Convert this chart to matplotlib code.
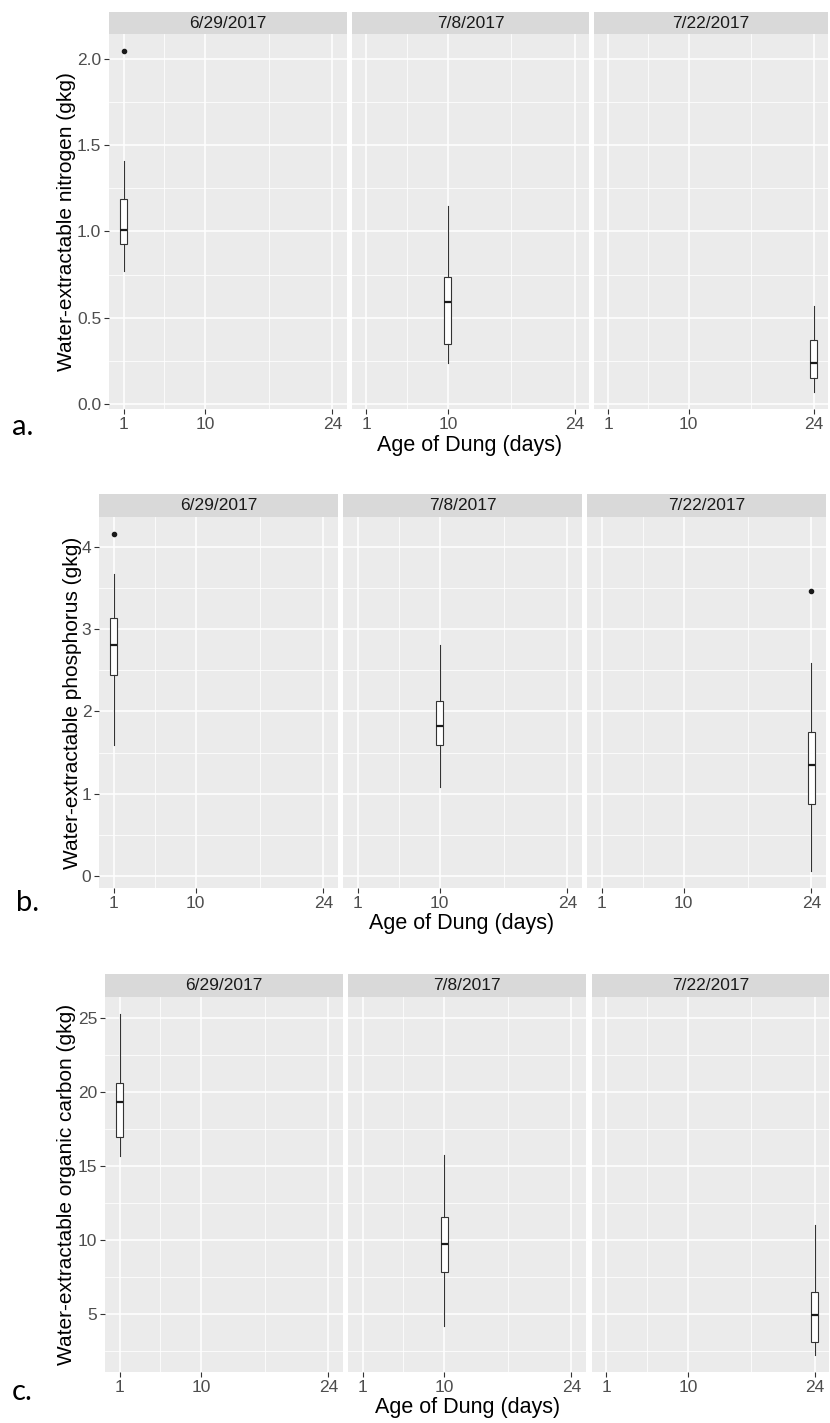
import matplotlib
matplotlib.use('Agg')
import matplotlib.pyplot as plt

W, H = 830, 1423

dates = ["6/29/2017", "7/8/2017", "7/22/2017"]
ages = [1, 10, 24]
age_ticks = [1, 10, 24]
age_minor = [5.5, 17]

# nitrogen, one value per sampling date
n_lo = [0.77, 0.24, 0.07]
n_q1 = [0.93, 0.35, 0.15]
n_med = [1.01, 0.59, 0.24]
n_q3 = [1.19, 0.735, 0.37]
n_hi = [1.41, 1.145, 0.57]
n_out = [[2.045], [], []]

# phosphorus
p_lo = [1.59, 1.085, 0.06]
p_q1 = [2.44, 1.59, 0.87]
p_med = [2.80, 1.82, 1.35]
p_q3 = [3.13, 2.13, 1.75]
p_hi = [3.67, 2.81, 2.585]
p_out = [[4.155], [], [3.46]]

# organic carbon
c_lo = [15.7, 4.2, 2.24]
c_q1 = [17.0, 7.85, 3.1]
c_med = [19.33, 9.72, 4.93]
c_q3 = [20.66, 11.58, 6.49]
c_hi = [25.29, 15.78, 11.0]
c_out = [[], [], []]

rows = [
    dict(lo=n_lo, q1=n_q1, med=n_med, q3=n_q3, hi=n_hi, out=n_out,
         yticks=[0.0, 0.5, 1.0, 1.5, 2.0], yfmt="{:.1f}",
         ylabel="Water-extractable nitrogen (gkg)", letter="a.",
         strip=(12, 34), panel=(34, 409),
         xs=[(109, 347), (352, 589), (594, 828)],
         ylab_x=67, xlab=(470, 445), let=(12, 427)),
    dict(lo=p_lo, q1=p_q1, med=p_med, q3=p_q3, hi=p_hi, out=p_out,
         yticks=[0, 1, 2, 3, 4], yfmt="{:d}",
         ylabel="Water-extractable phosphorus (gkg)", letter="b.",
         strip=(494, 517), panel=(517, 888),
         xs=[(99, 338), (343, 582), (587, 826)],
         ylab_x=72, xlab=(462, 923), let=(16, 903)),
    dict(lo=c_lo, q1=c_q1, med=c_med, q3=c_q3, hi=c_hi, out=c_out,
         yticks=[5, 10, 15, 20, 25], yfmt="{:d}",
         ylabel="Water-extractable organic carbon (gkg)", letter="c.",
         strip=(974, 997), panel=(997, 1372),
         xs=[(105, 343), (348, 586), (592, 829)],
         ylab_x=67, xlab=(468, 1407), let=(12, 1392)),
]

plt.rcParams['font.family'] = ['Liberation Sans', 'DejaVu Sans']

fig = plt.figure(figsize=(W / 100, H / 100), dpi=100)


def px_ax(x0, y0, x1, y1):
    return fig.add_axes([x0 / W, 1 - y1 / H, (x1 - x0) / W, (y1 - y0) / H])


for r in rows:
    allv = r['lo'] + r['hi'] + [v for o in r['out'] for v in o]
    vmin, vmax = min(allv), max(allv)
    pad = (vmax - vmin) * 0.05
    yt = r['yticks']
    step = yt[1] - yt[0]
    yminor = [yt[0] - step / 2] + [v + step / 2 for v in yt]
    for j, (x0, x1) in enumerate(r['xs']):
        ax = px_ax(x0, r['panel'][0], x1, r['panel'][1])
        ax.set_facecolor('#EBEBEB')
        for s in ax.spines.values():
            s.set_visible(False)
        ax.set_xticks(age_ticks)
        ax.set_xticks(age_minor, minor=True)
        ax.set_yticks(yt)
        ax.set_yticks(yminor, minor=True)
        ax.grid(which='major', color='white', lw=1.1)
        ax.grid(which='minor', color='white', lw=0.55)
        ax.set_axisbelow(True)
        ax.tick_params(which='major', length=3.5, width=0.8, color='#333333',
                       labelcolor='#4D4D4D', labelsize=12.5, pad=2)
        ax.tick_params(which='minor', length=0)
        if j == 0:
            ax.set_yticklabels([r['yfmt'].format(v) for v in yt])
        else:
            ax.tick_params(axis='y', which='major', length=0, labelleft=False)
        stats = [dict(med=r['med'][j], q1=r['q1'][j], q3=r['q3'][j],
                      whislo=r['lo'][j], whishi=r['hi'][j], fliers=r['out'][j])]
        ax.bxp(stats, positions=[ages[j]], widths=0.75, patch_artist=True,
               showcaps=False, manage_ticks=False,
               boxprops=dict(facecolor='white', edgecolor='#333333', lw=0.8),
               whiskerprops=dict(color='#333333', lw=0.8),
               medianprops=dict(color='#1A1A1A', lw=1.6),
               flierprops=dict(marker='o', markersize=3, markerfacecolor='#1A1A1A',
                               markeredgecolor='#1A1A1A'))
        ax.set_xlim(-0.6, 25.6)
        ax.set_ylim(vmin - pad, vmax + pad)
        sax = px_ax(x0, r['strip'][0], x1, r['strip'][1])
        sax.set_facecolor('#D9D9D9')
        sax.set_xticks([])
        sax.set_yticks([])
        for s in sax.spines.values():
            s.set_visible(False)
        sax.text(0.5, 0.5, dates[j], ha='center', va='center', fontsize=12.5,
                 color='#1A1A1A', transform=sax.transAxes)
    pc = (r['panel'][0] + r['panel'][1]) / 2
    fig.text(r['ylab_x'] / W, 1 - pc / H, r['ylabel'], rotation=90,
             ha='center', va='center', fontsize=15, color='black')
    fig.text(r['xlab'][0] / W, 1 - r['xlab'][1] / H, "Age of Dung (days)",
             ha='center', va='center', fontsize=15.5, color='black')
    fig.text(r['let'][0] / W, 1 - r['let'][1] / H, r['letter'], ha='left',
             va='center', fontsize=21, family=['Lato', 'DejaVu Sans'])

fig.savefig('out.png', dpi=100, facecolor='white')
